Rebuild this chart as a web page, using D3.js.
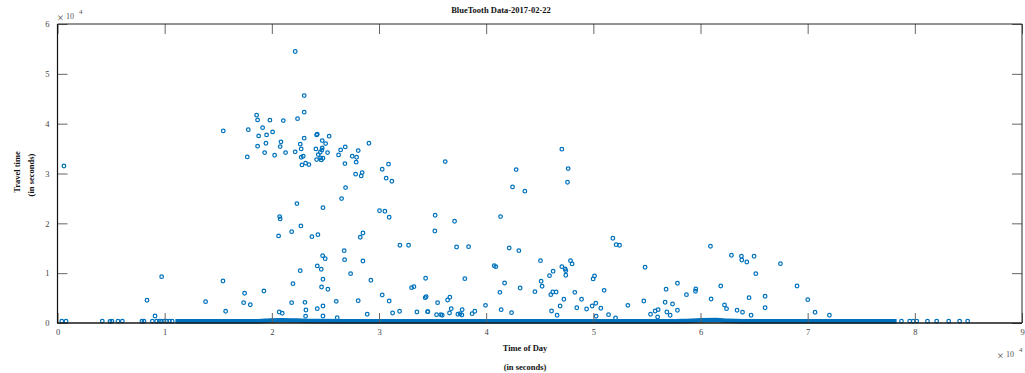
<!DOCTYPE html>
<html>
<head>
<meta charset="utf-8">
<script src="https://cdn.jsdelivr.net/npm/d3@7"></script>
<style>
  body { margin: 0; background: #fff; }
  text { font-family: "Liberation Serif", "Times New Roman", serif; }
</style>
</head>
<body>
<svg id="chart" width="1025" height="373"></svg>
<script>
// time of day (s) / travel time (s) for the scattered observations
const timeOfDay = [
  22180,23020,23020,15470,18580,18670,19820,21070,22400,17800,
  19140,18770,19510,20070,19450,18670,20850,20780,19330,17710,
  20260,21280,22180,22650,22740,23020,22740,22930,22810,23150,
  23460,24180,24240,25350,24700,25020,24110,24700,24670,24520,
  24330,25200,24180,24550,24770,24610,26420,26850,26230,26820,
  28060,27500,27910,27870,29060,27820,28430,28340,30300,30890,
  30670,31200,26880,26510,22340,24770,20730,20780,20630,21850,
  22710,23740,24300,30050,30550,30950,28500,28250,26750,26790,
  24740,24980,28500,31950,32760,22650,24240,24610,27350,24770,
  29240,21970,24640,25230,19260,9720,15440,17460,17370,17990,
  13820,15690,30300,30950,33040,33260,34350,34310,34400,21850,
  23090,23180,24240,24770,26010,28060,20690,20970,23150,24770,
  26100,28900,31920,31270,33540,34560,9100,8350,600,36180,
  47060,42800,47650,47590,42460,43610,35240,35210,37050,41340,
  37240,38360,42150,43050,51820,52130,52450,54830,38010,40750,
  40900,45070,47870,48020,47060,47370,47430,46250,45910,47430,
  50110,49980,45130,45220,41720,43170,41280,44550,46030,46220,
  46530,48270,51010,57850,56790,58690,59560,59530,36610,36400,
  35470,34530,36740,37760,36580,35370,35770,35900,37360,37570,
  37730,38690,38940,39940,41400,42370,47250,48900,48460,49370,
  46900,46100,46620,49890,50230,50700,50260,51420,52070,53220,
  54710,55340,55770,56050,56000,56700,56860,57170,57390,57850,
  60930,62890,63820,63850,65000,64320,67460,65160,61890,69010,
  60990,64530,66030,70010,62240,62430,63410,63920,66030,64720,
  70690,72030
];
const travelTime = [
  54480,45640,42310,38550,41700,40760,40700,40620,41000,38800,
  39200,37550,37750,38350,36080,35480,36350,35400,34200,33330,
  33670,34200,34340,35880,34940,37090,33270,33470,31730,32070,
  31790,37750,37890,37490,36610,36000,34940,35140,34740,34280,
  33800,34200,32790,33130,33070,32730,34740,35340,33730,31990,
  34600,33470,33270,32270,36080,29860,30180,29520,30860,31870,
  29060,28450,27170,24960,23960,23150,21350,20880,17470,18330,
  19480,17330,17730,22550,22430,21220,18070,17210,14520,12710,
  13510,12910,12450,15600,15600,10500,11450,10780,9900,8770,
  8570,7890,7230,6770,6430,9300,8430,5960,4080,3670,
  4280,2350,5620,4420,7090,7290,8970,5080,5280,4080,
  4150,2610,2870,3410,4350,4480,2210,1950,1350,1410,
  1060,1750,2350,2000,2210,2270,1400,4560,31500,32390,
  34880,30780,30980,28250,27310,26450,21630,18470,20420,21350,
  15260,15320,15060,14520,17010,15720,15600,11180,8900,11510,
  11310,12510,12510,11850,11310,10840,10500,10380,9500,9580,
  9440,8840,8370,7370,8030,7030,6160,6290,5680,6220,
  6220,6160,6560,7970,6770,5680,6830,6370,5160,4620,
  4080,2270,2870,2670,2000,1670,1670,1550,1750,1870,
  1600,1870,2350,3550,2670,2070,4760,4760,3070,2810,
  3410,2410,1550,3410,3960,2950,1350,1670,1000,3550,
  4420,1750,2410,2670,1200,4160,2210,1550,3820,2550,
  15400,13590,13390,12650,13390,12250,11910,9900,7430,7430,
  4820,5080,5360,4680,3610,2870,2550,2150,3070,1550,
  2150,1550
];

// isolated readings sitting on the floor of the plot
const floorTime = [400, 800, 4180, 4900, 5080, 5640, 6050, 7880, 8070, 8850,
  9250, 9500, 9700, 9950, 10200, 10450, 10700, 78750, 79520, 79850,
  80180, 81180, 82040, 83160, 84180, 84930];
const floorTravel = [350, 350, 380, 300, 380, 380, 380, 360, 360, 380,
  350, 380, 360, 380, 350, 380, 360, 350, 380, 360,
  380, 360, 380, 360, 380, 380];

// the thousands of overlapping daytime readings form a solid band
const bandTime = [11000, 16000, 18800, 19800, 21000, 22300, 24000, 30000, 40000,
  50000, 56000, 58300, 60000, 61500, 62500, 64000, 72000, 78300];
const bandTravel = [330, 340, 360, 520, 560, 480, 380, 360, 350,
  350, 350, 380, 560, 600, 460, 360, 340, 330];

const xTicks = [0, 1, 2, 3, 4, 5, 6, 7, 8, 9];
const yTicks = [0, 1, 2, 3, 4, 5, 6];
const scaleExp = 1e4;

const blue = "#0072BD";
const svg = d3.select("#chart");
const margin = {top: 24, right: 3, bottom: 50, left: 57.5};
const width = 1025 - margin.left - margin.right,
      height = 373 - margin.top - margin.bottom;

const x = d3.scaleLinear().domain([0, 9 * scaleExp]).range([0, width]);
const y = d3.scaleLinear().domain([0, 6 * scaleExp]).range([height, 0]);

const g = svg.append("g").attr("transform", "translate(" + margin.left + "," + margin.top + ")");

g.append("clipPath").attr("id", "clip")
  .append("rect").attr("width", width).attr("height", height + 2);

const plot = g.append("g").attr("clip-path", "url(#clip)");

plot.append("path")
  .datum(d3.zip(bandTime, bandTravel))
  .attr("fill", "none")
  .attr("stroke", blue)
  .attr("stroke-width", 4.5)
  .attr("d", d3.line().x(d => x(d[0])).y(d => y(d[1])).curve(d3.curveMonotoneX));

const pts = d3.zip(timeOfDay, travelTime).concat(d3.zip(floorTime, floorTravel));
plot.selectAll("circle")
  .data(pts)
  .enter().append("circle")
    .attr("cx", d => x(d[0]))
    .attr("cy", d => y(d[1]))
    .attr("r", 1.8)
    .attr("fill", "none")
    .attr("stroke", blue)
    .attr("stroke-width", 1.25);

// axes, MATLAB style: ticks pointing inward on all four sides
const fmt = d => d / scaleExp;
const styleAxis = sel => {
  sel.select(".domain").remove();
  sel.selectAll("line").attr("stroke", "#666").attr("stroke-width", 1);
  sel.selectAll("text").attr("fill", "#444").style("font-size", "8.5px")
    .style("font-family", "'Liberation Serif', serif");
};

g.append("g")
  .attr("transform", "translate(0," + height + ")")
  .call(d3.axisBottom(x).tickValues(xTicks.map(t => t * scaleExp)).tickFormat(fmt)
    .tickSizeInner(-10).tickSizeOuter(0).tickPadding(6))
  .call(styleAxis);
g.append("g")
  .call(d3.axisTop(x).tickValues(xTicks.map(t => t * scaleExp)).tickFormat("")
    .tickSizeInner(-10).tickSizeOuter(0))
  .call(styleAxis);
g.append("g")
  .call(d3.axisLeft(y).tickValues(yTicks.map(t => t * scaleExp)).tickFormat(fmt)
    .tickSizeInner(-10).tickSizeOuter(0).tickPadding(8))
  .call(styleAxis);
g.append("g")
  .attr("transform", "translate(" + width + ",0)")
  .call(d3.axisRight(y).tickValues(yTicks.map(t => t * scaleExp)).tickFormat("")
    .tickSizeInner(-10).tickSizeOuter(0))
  .call(styleAxis);

// box
g.append("path")
  .attr("d", "M0,0H" + width + "V" + height + "H0Z")
  .attr("fill", "none").attr("stroke", "#262626").attr("stroke-width", 1);
g.append("path")
  .attr("d", "M0,0V" + height + "H" + width)
  .attr("fill", "none").attr("stroke", "#111").attr("stroke-width", 1.2);

// exponent labels
const expLabel = (px, py) => {
  const t = svg.append("g").attr("transform", "translate(" + px + "," + py + ")");
  t.append("text").attr("x", 0).attr("y", 0).style("font-size", "12px").attr("fill", "#555").text("\u00d7");
  t.append("text").attr("x", 9).attr("y", -3).style("font-size", "8px").attr("fill", "#555").text("10");
  t.append("text").attr("x", 22).attr("y", -8).style("font-size", "7px").attr("fill", "#555").text("4");
};
expLabel(57, 22);
expLabel(997, 360);

// titles
svg.append("text").attr("x", 501).attr("y", 13).attr("text-anchor", "middle")
  .style("font-size", "8.5px").style("font-weight", "bold").attr("fill", "#111")
  .text("BlueTooth Data-2017-02-22");
svg.append("text").attr("x", 525).attr("y", 351).attr("text-anchor", "middle")
  .style("font-size", "8.5px").style("font-weight", "bold").attr("fill", "#111")
  .text("Time of Day");
svg.append("text").attr("x", 525).attr("y", 370).attr("text-anchor", "middle")
  .style("font-size", "8.5px").style("font-weight", "bold").attr("fill", "#111")
  .text("(in seconds)");
svg.append("text").attr("transform", "translate(19.5,172) rotate(-90)").attr("text-anchor", "middle")
  .style("font-size", "8.5px").style("font-weight", "bold").attr("fill", "#111")
  .text("Travel time");
svg.append("text").attr("transform", "translate(33.5,175) rotate(-90)").attr("text-anchor", "middle")
  .style("font-size", "8.5px").style("font-weight", "bold").attr("fill", "#111")
  .text("(in seconds)");
</script>
</body>
</html>
